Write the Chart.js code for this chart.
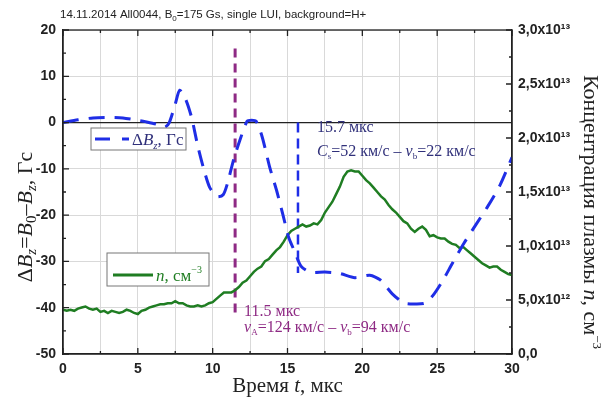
<!DOCTYPE html>
<html>
<head>
<meta charset="utf-8">
<script src="https://cdn.jsdelivr.net/npm/chart.js@4/dist/chart.umd.min.js"></script>
<style>
  body { margin: 0; background: #fff; }
</style>
</head>
<body>
<canvas id="c" width="601" height="406"></canvas>
<script>
// ΔBz, Гс (пунктир) — точки
const tB = [0, 1, 2, 3, 4, 5, 5.5, 6.2, 6.8, 7.1, 7.5, 7.8, 8.2, 8.6, 9.0, 9.4, 9.8, 10.3, 10.7, 11.0,
  11.4, 11.8, 12.3, 12.6, 12.9, 13.3, 13.8, 14.3, 14.7, 15.1, 15.5, 15.9, 16.5, 17.5, 18.5, 19.5,
  20.5, 21.2, 22.0, 22.8, 23.5, 24.2, 24.8, 25.4, 26.0, 26.8, 27.6, 28.4, 29.2, 30];
const dB = [0, 0.6, 1, 1.1, 1, 0.5, 0.2, -0.3, -1, 0, 4, 7, 5, 1, -5, -10, -14, -16, -15.6, -13,
  -8, -4, 0.3, 0.5, 0.3, -3, -9.5, -15, -20, -25, -28, -31, -32.3, -32.3, -32.6, -33.5,
  -33, -34, -37, -39, -39.2, -39, -37, -34, -30.5, -26, -22, -18, -13.5, -7.5];

// концентрация n, ед. 1e13 см^-3, шаг 0.25 мкс
const nDt = 0.25;
const nDens = [0.41, 0.40, 0.41, 0.40, 0.42, 0.43, 0.44, 0.42, 0.41, 0.42, 0.39, 0.40, 0.38, 0.40, 0.39, 0.38,
  0.39, 0.41, 0.40, 0.38, 0.37, 0.40, 0.41, 0.43, 0.44, 0.45, 0.46, 0.46, 0.47, 0.47, 0.49, 0.47,
  0.47, 0.45, 0.44, 0.44, 0.45, 0.44, 0.45, 0.47, 0.48, 0.51, 0.54, 0.57, 0.57, 0.57, 0.59, 0.62,
  0.66, 0.68, 0.72, 0.76, 0.79, 0.81, 0.86, 0.88, 0.92, 0.96, 0.99, 1.04, 1.10, 1.14, 1.16, 1.18,
  1.20, 1.18, 1.19, 1.21, 1.20, 1.24, 1.31, 1.36, 1.41, 1.48, 1.55, 1.64, 1.69, 1.70, 1.69, 1.69,
  1.65, 1.61, 1.58, 1.54, 1.50, 1.46, 1.43, 1.38, 1.34, 1.31, 1.27, 1.23, 1.21, 1.16, 1.13, 1.16,
  1.18, 1.15, 1.09, 1.10, 1.08, 1.07, 1.07, 1.04, 1.02, 1.01, 0.98, 0.99, 0.96, 0.93, 0.90, 0.87,
  0.84, 0.82, 0.80, 0.81, 0.81, 0.78, 0.76, 0.74, 0.73];

// вертикальные метки времени
const tAlfven = 11.5, tAlfvenY = [16, -42];
const tSound = 15.7, tSoundY = [0, -32.5];

const BLUE = "#1f2ee6", GREEN = "#1f7d22", PURPLE = "#8e2a84";
const SERIF = "'Liberation Serif', 'DejaVu Serif', serif";
const SANS = "'Liberation Sans', Arial, sans-serif";

// текст с курсивом/индексами: [текст, размер, стиль, сдвиг, цвет]
function rich(ctx, segs, x, y, align, fam) {
  let w = 0;
  segs.forEach(s => { ctx.font = `${s[2] || ""} ${s[1]}px ${fam}`; w += ctx.measureText(s[0]).width; });
  let cx = align === "center" ? x - w / 2 : x;
  ctx.textAlign = "left";
  ctx.textBaseline = "alphabetic";
  segs.forEach(s => {
    ctx.font = `${s[2] || ""} ${s[1]}px ${fam}`;
    ctx.fillStyle = s[4] || "#222";
    ctx.fillText(s[0], cx, y + (s[3] || 0));
    cx += ctx.measureText(s[0]).width;
  });
}

const decor = {
  id: "decor",
  afterDraw(ch) {
    const ctx = ch.ctx, a = ch.chartArea;
    const xs = ch.scales.x, ys = ch.scales.y, y2 = ch.scales.y2;
    ctx.save();
    // рамка и внутренние засечки
    ctx.strokeStyle = "#222";
    ctx.lineWidth = 1.3;
    ctx.strokeRect(a.left, a.top, a.right - a.left, a.bottom - a.top);
    ctx.beginPath();
    xs.ticks.forEach(t => {
      const px = xs.getPixelForValue(t.value), L = t.value % 5 === 0 ? 6 : 3;
      ctx.moveTo(px, a.bottom); ctx.lineTo(px, a.bottom - L);
      ctx.moveTo(px, a.top); ctx.lineTo(px, a.top + L);
    });
    ys.ticks.forEach(t => {
      const py = ys.getPixelForValue(t.value), L = t.value % 10 === 0 ? 6 : 3;
      ctx.moveTo(a.left, py); ctx.lineTo(a.left + L, py);
    });
    y2.ticks.forEach(t => {
      const py = y2.getPixelForValue(t.value), L = Math.round(t.value * 100) % 50 === 0 ? 6 : 3;
      ctx.moveTo(a.right, py); ctx.lineTo(a.right - L, py);
    });
    ctx.stroke();

    // заголовок
    rich(ctx, [["14.11.2014 All0044, B", 11.5], ["0", 8, "", 3], ["=175 Gs, single LUI, background=H+", 11.5]],
      a.left - 3, 18, "left", SANS);

    // подписи осей
    rich(ctx, [["Время ", 21], ["t", 21, "italic"], [", мкс", 21]], (a.left + a.right) / 2, a.bottom + 38, "center", SERIF);
    ctx.save();
    ctx.translate(a.left - 31, 217);
    ctx.rotate(-Math.PI / 2);
    rich(ctx, [["Δ", 22], ["B", 22, "italic"], ["z", 15, "italic", 4], ["=", 22], ["B", 22, "italic"], ["0", 15, "", 4],
      ["–", 22], ["B", 22, "italic"], ["z", 15, "italic", 4], [", Гс", 22]], 0, 0, "center", SERIF);
    ctx.restore();
    ctx.save();
    ctx.translate(a.right + 72, 212);
    ctx.rotate(Math.PI / 2);
    rich(ctx, [["Концентрация плазмы ", 22], ["n", 22, "italic"], [", см", 22], ["−3", 13, "", -9]], 0, 0, "center", SERIF);
    ctx.restore();

    // легенда ΔBz
    ctx.fillStyle = "#fff";
    ctx.strokeStyle = "#777";
    ctx.lineWidth = 1;
    ctx.fillRect(a.left + 28, 128, 95, 22);
    ctx.strokeRect(a.left + 28, 128, 95, 22);
    ctx.strokeStyle = BLUE;
    ctx.lineWidth = 3;
    ctx.setLineDash([15, 12]);
    ctx.beginPath(); ctx.moveTo(a.left + 32, 139); ctx.lineTo(a.left + 66, 139); ctx.stroke();
    ctx.setLineDash([]);
    const NAVY = "#30307a";
    rich(ctx, [["Δ", 17, "", 0, NAVY], ["B", 17, "italic", 0, NAVY], ["z", 11, "italic", 4, NAVY], [", Гс", 17, "", 0, NAVY]],
      a.left + 69, 145, "left", SERIF);

    // легенда n
    ctx.fillStyle = "#fff";
    ctx.strokeStyle = "#777";
    ctx.lineWidth = 1;
    ctx.fillRect(a.left + 44, 253, 102, 33);
    ctx.strokeRect(a.left + 44, 253, 102, 33);
    ctx.strokeStyle = GREEN;
    ctx.lineWidth = 3;
    ctx.beginPath(); ctx.moveTo(a.left + 50, 275); ctx.lineTo(a.left + 90, 275); ctx.stroke();
    rich(ctx, [["n", 17, "italic", 0, GREEN], [", см", 17, "", 0, GREEN], ["−3", 10, "", -8, GREEN]],
      a.left + 93, 281, "left", SERIF);

    // подписи к вертикальным линиям
    const bx = xs.getPixelForValue(tSound) + 19;
    rich(ctx, [["15.7 мкс", 16, "", 0, NAVY]], bx, ys.getPixelForValue(-2), "left", SERIF);
    rich(ctx, [["C", 16, "italic", 0, NAVY], ["s", 9, "", 3, NAVY], ["=52 км/с – ", 16, "", 0, NAVY],
      ["v", 16, "italic", 0, NAVY], ["b", 9, "", 3, NAVY], ["=22 км/с", 16, "", 0, NAVY]], bx, ys.getPixelForValue(-7.2), "left", SERIF);
    const px = xs.getPixelForValue(tAlfven) + 9;
    rich(ctx, [["11.5 мкс", 16, "", 0, PURPLE]], px, ys.getPixelForValue(-41.8), "left", SERIF);
    rich(ctx, [["v", 16, "italic", 0, PURPLE], ["A", 9, "", 3, PURPLE], ["=124 км/с – ", 16, "", 0, PURPLE],
      ["v", 16, "italic", 0, PURPLE], ["b", 9, "", 3, PURPLE], ["=94 км/с", 16, "", 0, PURPLE]], px, ys.getPixelForValue(-45.3), "left", SERIF);
    ctx.restore();
  }
};

const supNum = { "12": "¹²", "13": "¹³" };
function fmtN(v) {
  const r = Math.round(v * 100);
  if (r % 50 !== 0) return "";
  if (r === 0) return "0,0";
  if (r < 100) return (v * 10).toFixed(1).replace(".", ",") + "x10" + supNum["12"];
  return v.toFixed(1).replace(".", ",") + "x10" + supNum["13"];
}

const tickFont = { family: SANS, size: 14, weight: "bold" };

new Chart(document.getElementById("c"), {
  type: "line",
  data: {
    datasets: [
      {
        label: "ΔBz",
        data: tB.map((t, i) => ({ x: t, y: dB[i] })),
        yAxisID: "y",
        borderColor: BLUE,
        borderWidth: 3,
        borderDash: [16, 10],
        tension: 0.25,
        pointRadius: 0
      },
      {
        label: "n",
        data: nDens.map((v, i) => ({ x: i * nDt, y: v })),
        yAxisID: "y2",
        borderColor: GREEN,
        borderWidth: 2.5,
        tension: 0,
        pointRadius: 0
      },
      {
        label: "11.5",
        data: tAlfvenY.map(v => ({ x: tAlfven, y: v })),
        yAxisID: "y",
        borderColor: PURPLE,
        borderWidth: 3,
        borderDash: [9, 6],
        pointRadius: 0
      },
      {
        label: "15.7",
        data: tSoundY.map(v => ({ x: tSound, y: v })),
        yAxisID: "y",
        borderColor: BLUE,
        borderWidth: 2.5,
        borderDash: [10, 6],
        pointRadius: 0
      }
    ]
  },
  options: {
    responsive: false,
    animation: false,
    layout: { padding: { top: 30, left: 0, right: 0, bottom: 0 } },
    plugins: { legend: { display: false }, tooltip: { enabled: false } },
    scales: {
      x: {
        type: "linear", min: 0, max: 30,
        afterFit: s => { s.height = 52; },
        ticks: { stepSize: 2.5, autoSkip: false, maxRotation: 0, padding: 7, color: "#222", font: tickFont,
          callback: v => (v % 5 === 0 ? v : "") },
        grid: { color: "#d9d9d9", drawTicks: false },
        border: { color: "#222", width: 1.3 }
      },
      y: {
        position: "left", min: -50, max: 20,
        afterFit: s => { s.width = 63; },
        ticks: { stepSize: 5, autoSkip: false, padding: 7, color: "#222", font: tickFont,
          callback: v => (v % 10 === 0 ? v : "") },
        grid: { drawTicks: false, lineWidth: c => (c.tick && c.tick.value === 0 ? 1.3 : 1),
          color: c => (c.tick && c.tick.value === 0 ? "#222" : (c.tick && c.tick.value % 10 === 0 ? "#d9d9d9" : "rgba(0,0,0,0)")) },
        border: { color: "#222", width: 1.3 }
      },
      y2: {
        position: "right", min: 0, max: 3,
        afterFit: s => { s.width = 89; },
        ticks: { stepSize: 0.25, autoSkip: false, padding: 6, color: "#222", font: tickFont, callback: fmtN },
        grid: { display: false, drawTicks: false },
        border: { color: "#222", width: 1.3 }
      }
    }
  },
  plugins: [decor]
});
</script>
</body>
</html>
